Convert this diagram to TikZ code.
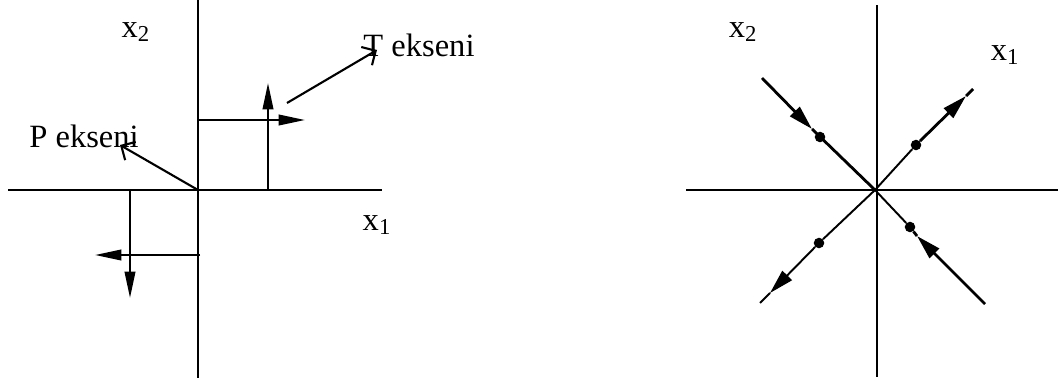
\documentclass[tikz,border=0pt]{standalone}
\usepackage{fontspec}
\setmainfont{Liberation Serif}
\usetikzlibrary{arrows.meta}
\tikzset{
  axis/.style={line width=1.2pt},
  thinaxis/.style={line width=0.9pt},
  flow/.style={line width=1.1pt},
  thickflow/.style={line width=1.6pt},
  fulltip/.style={-{Triangle[length=15pt,width=6pt]}, line width=1.2pt},
  smalltip/.style={-{Triangle[length=14pt,width=7.5pt]}},
  opentip/.style={-{Straight Barb[length=6pt,width=12pt]}, line width=1.2pt},
  lbl/.style={font=\fontsize{18.5}{22}\selectfont, inner sep=0pt},
  dot/.style={circle, fill=black, inner sep=0pt, minimum size=6pt},
}
\begin{document}
\begin{tikzpicture}[x=0.2mm,y=-0.2mm]
\useasboundingbox (0,0) rectangle (1062,383);

% ---------------- left: stress axes ----------------
\coordinate (o1) at (198,190);
\coordinate (l1) at (8,190);
\coordinate (r1) at (382,190);
\coordinate (t1) at (198,0);
\coordinate (b1) at (198,378);
\draw[axis] (l1) -- (r1);
\draw[axis] (t1) -- (b1);

\node[lbl] (x2a) at (136,32) {x\textsubscript{2}};
\node[lbl] (x1a) at (377,225) {x\textsubscript{1}};
\node[lbl] (pax) at (84,136) {P ekseni};
\node[lbl] (tax) at (419,45) {T ekseni};

% P and T axes
\coordinate (ptip) at (120,145);
\draw[opentip] (o1) -- (ptip);
\coordinate (tfoot) at (287,103);
\coordinate (ttip) at (377,50);
\draw[opentip] (tfoot) -- (ttip);

% upper right couple
\coordinate (ua) at (198,120);
\coordinate (ub) at (305,120);
\coordinate (uc) at (268,190);
\coordinate (ud) at (268,83);
\draw[fulltip] (ua) -- (ub);
\draw[fulltip] (uc) -- (ud);

% lower left couple
\coordinate (la) at (200,255);
\coordinate (lb) at (95,255);
\coordinate (lc) at (130,190);
\coordinate (ld) at (130,298);
\draw[fulltip] (la) -- (lb);
\draw[fulltip] (lc) -- (ld);

% ---------------- right: principal directions ----------------
\coordinate (o2) at (875,190);
\coordinate (l2) at (686,190);
\coordinate (r2) at (1058,190);
\coordinate (t2) at (877,5);
\coordinate (b2) at (877,377);
\draw[thinaxis] (l2) -- (r2);
\draw[thinaxis] (t2) -- (b2);

\node[lbl] (x2b) at (743,32) {x\textsubscript{2}};
\node[lbl] (x1b) at (1005,55) {x\textsubscript{1}};

\node[dot] (nwdot) at (820,137) {};
\node[dot] (nedot) at (916,145) {};
\node[dot] (swdot) at (819,243) {};
\node[dot] (sedot) at (910,227) {};

% north-west branch, flowing in
\coordinate (nwend) at (762,78);
\coordinate (nwtip) at (812,129);
\draw[thickflow, smalltip] (nwend) -- (nwtip);
\draw[thickflow] (nwtip) -- (o2);

% south-east branch, flowing in
\coordinate (seend) at (985,304);
\coordinate (setip) at (917,236);
\draw[thickflow, smalltip] (seend) -- (setip);
\draw[thickflow] (setip) -- (sedot);
\draw[flow] (sedot) -- (o2);

% north-east branch, flowing out
\coordinate (neend) at (973,89);
\coordinate (netip) at (966,96);
\draw[flow] (o2) -- (nedot);
\draw[thickflow, smalltip] (nedot) -- (netip);
\draw[thickflow] (netip) -- (neend);

% south-west branch, flowing out
\coordinate (swend) at (760,303);
\coordinate (swtip) at (770,293);
\draw[flow] (o2) -- (swdot);
\draw[flow, smalltip] (swdot) -- (swtip);
\draw[flow] (swtip) -- (swend);

\end{tikzpicture}
\end{document}
